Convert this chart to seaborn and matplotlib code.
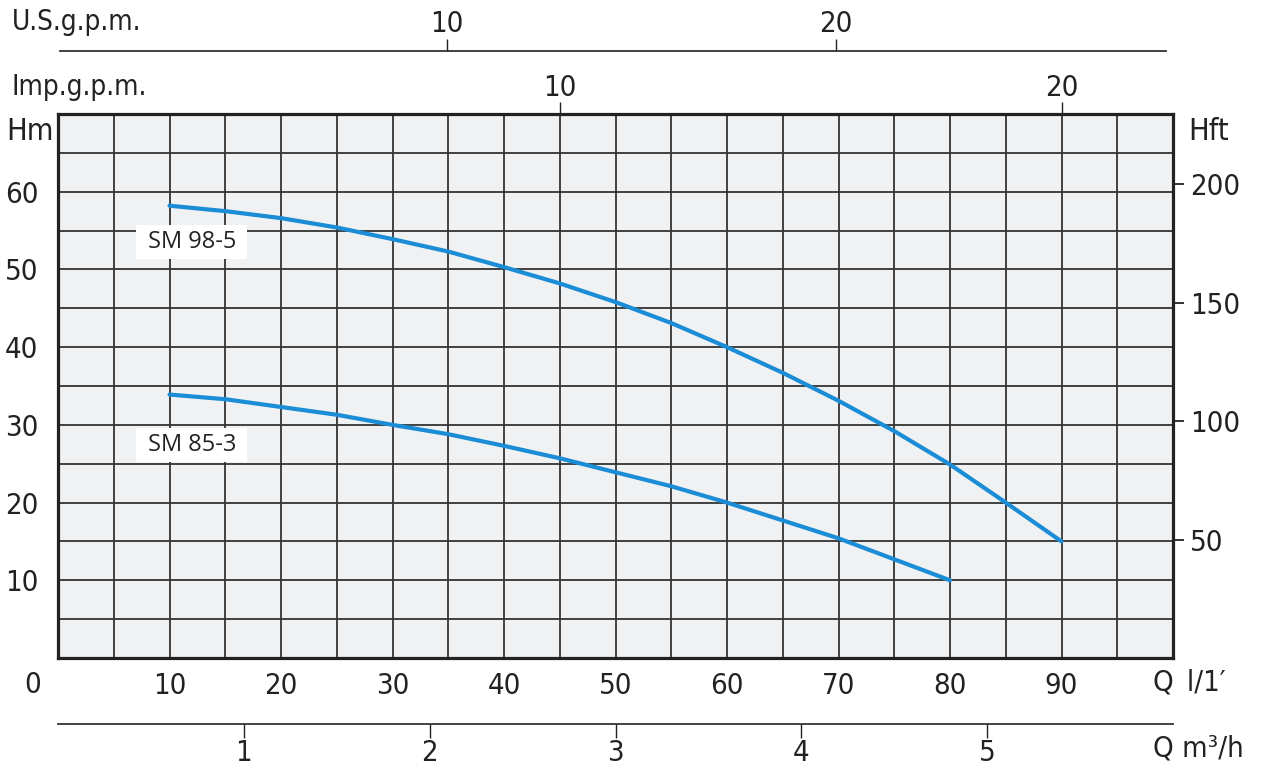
import matplotlib
matplotlib.use("Agg")
import matplotlib.pyplot as plt
import seaborn as sns
import pandas as pd

# ─────────────────────────────────────────────
# DATA
# ─────────────────────────────────────────────
flow_98_5 = [10, 15, 20, 25, 30, 35, 40, 45, 50, 55, 60, 65, 70, 75, 80, 85, 90]
head_98_5 = [58.2, 57.5, 56.6, 55.4, 53.9, 52.3, 50.3, 48.2, 45.8, 43.1,
             40.0, 36.7, 33.1, 29.2, 24.9, 20.0, 15.0]

flow_85_3 = [10, 15, 20, 25, 30, 35, 40, 45, 50, 55, 60, 65, 70, 75, 80]
head_85_3 = [33.9, 33.3, 32.3, 31.3, 30.0, 28.8, 27.3, 25.7, 23.9, 22.1,
             20.0, 17.7, 15.4, 12.7, 10.0]

q_lmin_ticks = [10, 20, 30, 40, 50, 60, 70, 80, 90]
h_m_ticks = [10, 20, 30, 40, 50, 60]
h_ft_ticks = [50, 100, 150, 200]
us_gpm_ticks = [10, 20]
imp_gpm_ticks = [10, 20]
m3h_ticks = [1, 2, 3, 4, 5]

# unit conversions as drawn on the sheet
LMIN_PER_USGPM = 3.49
LMIN_PER_IMPGPM = 4.5
LMIN_PER_M3H = 1000 / 60
FT_PER_M = 1 / 0.3048

CURVE_COLOR = "#1a8dd6"
INK = "#222222"
GRID = "#333333"

df = pd.concat([
    pd.DataFrame({"Q": flow_98_5, "H": head_98_5, "pump": "SM 98-5"}),
    pd.DataFrame({"Q": flow_85_3, "H": head_85_3, "pump": "SM 85-3"}),
])

# ─────────────────────────────────────────────
# FIGURE
# ─────────────────────────────────────────────
sns.set_style("white")
plt.rcParams["font.family"] = ["DejaVu Sans"]
plt.rcParams["font.stretch"] = "condensed"
plt.rcParams["text.color"] = INK

W, H = 1269, 784
fig = plt.figure(figsize=(W / 100, H / 100), dpi=100)
ax = fig.add_axes([58 / W, 1 - 658 / H, (1173 - 58) / W, (658 - 114) / H])
ax.set_facecolor("#f0f1f3")

sns.lineplot(data=df, x="Q", y="H", hue="pump", palette=[CURVE_COLOR, CURVE_COLOR],
             sort=False, linewidth=3.0, legend=False, ax=ax, zorder=4)

ax.set_xlim(0, 100)
ax.set_ylim(0, 70)
ax.set_xticks(q_lmin_ticks)
ax.set_xticks(range(5, 100, 5), minor=True)
ax.set_yticks(h_m_ticks)
ax.set_yticks(range(5, 70, 5), minor=True)
ax.grid(True, which="both", color=GRID, linewidth=1.3)
ax.set_axisbelow(True)
ax.set_xlabel("")
ax.set_ylabel("")
ax.tick_params(which="both", length=0)
ax.tick_params(axis="x", pad=10, labelsize=21, labelcolor=INK)
ax.tick_params(axis="y", pad=14, labelsize=21, labelcolor=INK)
for s in ax.spines.values():
    s.set_visible(True)
    s.set_linewidth(2.3)
    s.set_color(INK)

# curve labels
for txt, qx, hy in [("SM 98-5", 12, 53.5), ("SM 85-3", 12, 27.4)]:
    ax.text(qx, hy, f" {txt} ", family="Open Sans", fontstretch="normal", fontsize=17,
            ha="center", va="center", color=INK, zorder=3,
            bbox=dict(facecolor="white", edgecolor="none", boxstyle="square,pad=0.22"))

# right axis: Hft
axr = ax.secondary_yaxis("right", functions=(lambda m: m * FT_PER_M, lambda f: f / FT_PER_M))
axr.set_yticks(h_ft_ticks)
axr.tick_params(length=8, width=1.3, pad=4, labelsize=21, color=INK, labelcolor=INK)
axr.spines["right"].set_visible(False)

# top axis: Imp.g.p.m. on the frame
ax_imp = ax.secondary_xaxis("top", functions=(lambda q: q / LMIN_PER_IMPGPM,
                                              lambda g: g * LMIN_PER_IMPGPM))
ax_imp.set_xticks(imp_gpm_ticks)
ax_imp.tick_params(length=9, width=1.0, pad=-0.5, labelsize=21, color=INK, labelcolor=INK)
ax_imp.spines["top"].set_visible(False)

# upper axis: U.S.g.p.m. on its own line
ax_us = ax.secondary_xaxis(1 + (114 - 51) / 544, functions=(lambda q: q / LMIN_PER_USGPM,
                                                            lambda g: g * LMIN_PER_USGPM))
ax_us.set_xticks(us_gpm_ticks)
ax_us.tick_params(length=9, width=1.0, pad=0.5, labelsize=21, color=INK, labelcolor=INK)
ax_us.spines["top"].set_linewidth(1.3)
ax_us.spines["top"].set_color(GRID)
ax_us.spines["top"].set_bounds(0.2 / LMIN_PER_USGPM, 99.4 / LMIN_PER_USGPM)

# bottom axis: m³/h on its own line
ax_m3 = ax.secondary_xaxis(-(724 - 658) / 544, functions=(lambda q: q / LMIN_PER_M3H,
                                                          lambda c: c * LMIN_PER_M3H))
ax_m3.set_xticks(m3h_ticks)
ax_m3.tick_params(length=10, width=1.0, pad=0.5, labelsize=21, color=INK, labelcolor=INK)
ax_m3.spines["bottom"].set_linewidth(1.3)
ax_m3.spines["bottom"].set_color(GRID)

# unit captions
fs = 21
fig.text(12 / W, 1 - 22 / H, "U.S.g.p.m.", ha="left", va="center", fontsize=fs - 1)
fig.text(12 / W, 1 - 87 / H, "Imp.g.p.m.", ha="left", va="center", fontsize=fs - 1)
fig.text(6 / W, 1 - 131 / H, "Hm", ha="left", va="center", fontsize=fs + 1)
fig.text(1188 / W, 1 - 131 / H, "Hft", ha="left", va="center", fontsize=fs + 1)
fig.text(33 / W, 1 - 685 / H, "0", ha="center", va="center", fontsize=fs)
fig.text(1153 / W, 1 - 683 / H, "Q\u2002l/1\u2032", ha="left", va="center", fontsize=fs)
fig.text(1153 / W, 1 - 748 / H, "Q m\u00b3/h", ha="left", va="center", fontsize=fs)

fig.savefig("out.png", dpi=100, facecolor="white")
